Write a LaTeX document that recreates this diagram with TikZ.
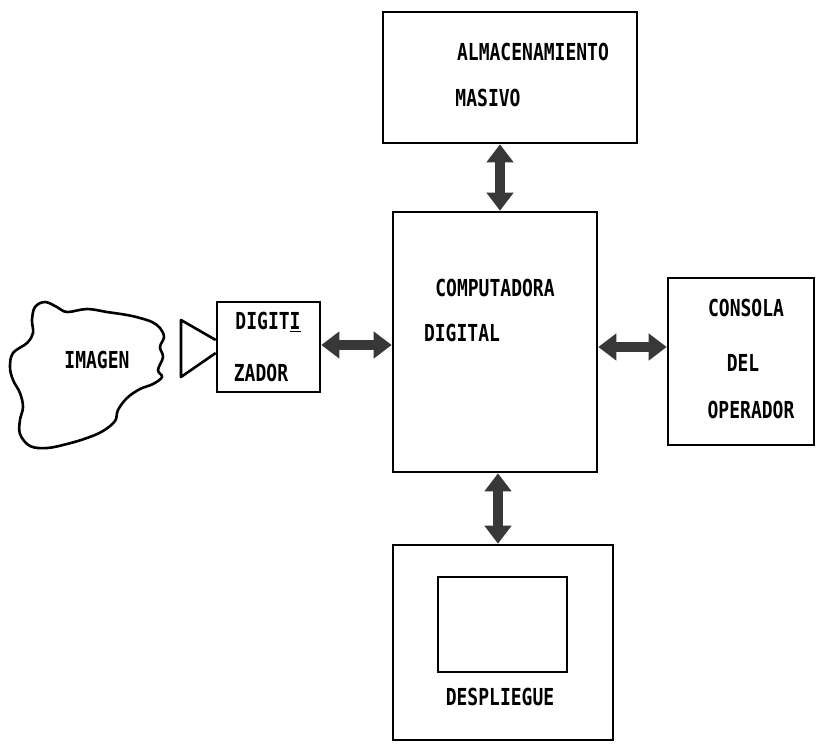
\documentclass[tikz,border=0pt]{standalone}
\usepackage{fontspec}
\setmonofont{DejaVu Sans Mono}
\usepackage{tikz}
\usetikzlibrary{arrows.meta, calc, positioning}
\tikzset{
	caja/.style={draw, line width=2.6pt, inner sep=0pt}
}
\tikzset{
	letrero/.style={font=\ttfamily\bfseries\fontsize{18}{20}\selectfont, inner sep=0pt}
}
\tikzset{
	flecha/.style={line width=10pt, black!78,
	  {Triangle[width=26pt,length=18pt]}-{Triangle[width=26pt,length=18pt]}}
}
\newcommand{\alto}[1]{\scalebox{1}[1.3]{#1}}

\begin{document}
\begin{tikzpicture}[x=1pt,y=-1pt]
      \useasboundingbox (0,0) rectangle (816,745);
      % cajas
      \node[caja, minimum width=254, minimum height=131] (alm) at (510,77.5) {};
      \node[caja, minimum width=204, minimum height=260] (comp) at (495,342) {};
      \node[caja, minimum width=146, minimum height=167] (cons) at (741,361.5) {};
      \node[caja, minimum width=103, minimum height=90] (dig) at (268.5,347) {};
      \node[caja, minimum width=220, minimum height=195] (desp) at (503,642.5) {};
      \node[caja, minimum width=129, minimum height=95] (pant) at (502.5,624.5) {};
      % nube
      \draw[line width=2.6pt] plot[smooth cycle, tension=0.6] coordinates {
        (35,307) (45,302) (57,307) (67,312) (87,309) (107,312) (127,315)
        (140,318) (152,322) (160,328) (164,337) (160,347) (163,357) (158,370)
        (162,377) (153,384) (140,389) (127,398) (118,410) (115,421) (103,431)
        (87,438) (67,444) (47,448) (30,446) (20,434) (20,420) (23,407)
        (20,393) (13,380) (10,367) (13,353) (27,343) (33,333) (32,320)};
      % lente del digitizador
      \draw[line width=2.6pt, line join=round]
        ($(dig.west)+(0,-7)$) -- (181,320) -- (181,377) -- ($(dig.west)+(0,6)$);
      % textos
      \node[letrero] (t1) at (533,52) {\alto{ALMACENAMIENTO}};
      \node[letrero] (t2) at (488,98) {\alto{MASIVO}};
      \node[letrero] (t3) at (495,288) {\alto{COMPUTADORA}};
      \node[letrero] (t4) at (462,333) {\alto{DIGITAL}};
      \node[letrero] (t5) at (746,308) {\alto{CONSOLA}};
      \node[letrero] (t6) at (743,363) {\alto{DEL}};
      \node[letrero] (t7) at (751,410) {\alto{OPERADOR}};
      \node[letrero] (t8) at (268,322) {\alto{DIGIT\underline{I}}};
      \node[letrero] (t9) at (261,373) {\alto{ZADOR}};
      \node[letrero] (t10) at (97,360) {\alto{IMAGEN}};
      \node[letrero] (t11) at (500,697) {\alto{DESPLIEGUE}};
      % flechas
      \coordinate (ejeA) at (500,0);
      \coordinate (ejeB) at (498,0);
      \coordinate (ejeC) at (0,345);
      \coordinate (ejeD) at (0,347);
      \draw[flecha] (alm.south -| ejeA) -- (comp.north -| ejeA);
      \draw[flecha] (comp.south -| ejeB) -- (desp.north -| ejeB);
      \draw[flecha] (dig.east |- ejeC) -- (comp.west |- ejeC);
      \draw[flecha] (comp.east |- ejeD) -- (cons.west |- ejeD);
    \end{tikzpicture}
\end{document}
